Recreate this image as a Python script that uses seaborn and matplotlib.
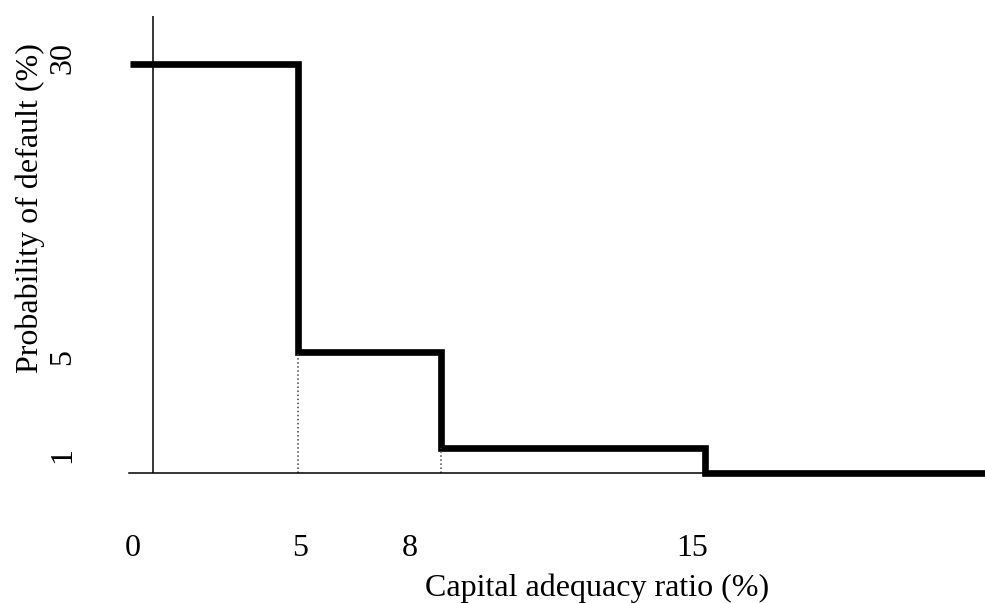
import seaborn as sns
import matplotlib.pyplot as plt
import pandas as pd

# Schematic step chart: capital adequacy ratio vs probability of default
# positions are in drawing units (the original is not to scale)
car_edges = [-0.8, 5.0, 9.93, 19.05, 28.7]
pd_levels = [30.0, 8.84, 1.80, 0.0, 0.0]

x_tick_pos = [-0.71, 5.05, 8.84, 18.6]
x_tick_labels = ["0", "5", "8", "15"]
y_tick_pos = [30.4, 8.5, 1.3]
y_tick_labels = ["30", "5", "1"]

df = pd.DataFrame({"car": car_edges, "pd": pd_levels})

sns.set_theme(style="white")
plt.rcParams["font.family"] = ["Liberation Serif", "DejaVu Serif"]
plt.rcParams["text.color"] = "black"
plt.rcParams["axes.labelcolor"] = "black"
plt.rcParams["xtick.color"] = "black"
plt.rcParams["ytick.color"] = "black"

fig = plt.figure(figsize=(9.85, 6.03), dpi=100)
ax = fig.add_axes([129 / 985, 130 / 603, 856 / 985, 457 / 603])

sns.lineplot(data=df, x="car", y="pd", drawstyle="steps-post", color="black",
             linewidth=4.8, estimator=None, sort=False, ax=ax, clip_on=False,
             solid_joinstyle="miter", solid_capstyle="butt")

# dotted guides under the first two steps
ax.vlines([car_edges[1], car_edges[2]], 0, [pd_levels[1], pd_levels[2]],
          colors="#444444", linestyles=":", linewidth=1.1)

# vertical axis at x = 0
ax.axvline(0, color="black", linewidth=1.1)

ax.set_xlim(car_edges[0] - 0.045, car_edges[-1])
ax.set_ylim(0, 33.5)

for s in ["top", "right", "left"]:
    ax.spines[s].set_visible(False)
ax.spines["bottom"].set_color("black")
ax.spines["bottom"].set_linewidth(1.1)

ax.set_xticks(x_tick_pos, x_tick_labels)
ax.set_yticks(y_tick_pos, y_tick_labels, rotation=90, va="center")
ax.tick_params(axis="x", length=0, pad=44, labelsize=23)
ax.tick_params(axis="y", length=0, pad=37, labelsize=23)

ax.set_xlabel("Capital adequacy ratio (%)", fontsize=23)
ax.set_ylabel("Probability of default (%)", fontsize=23)
ax.xaxis.set_label_coords(0.547, -0.22)
ax.yaxis.set_label_coords(-0.098, 0.58)

fig.savefig("out.png", dpi=100)
